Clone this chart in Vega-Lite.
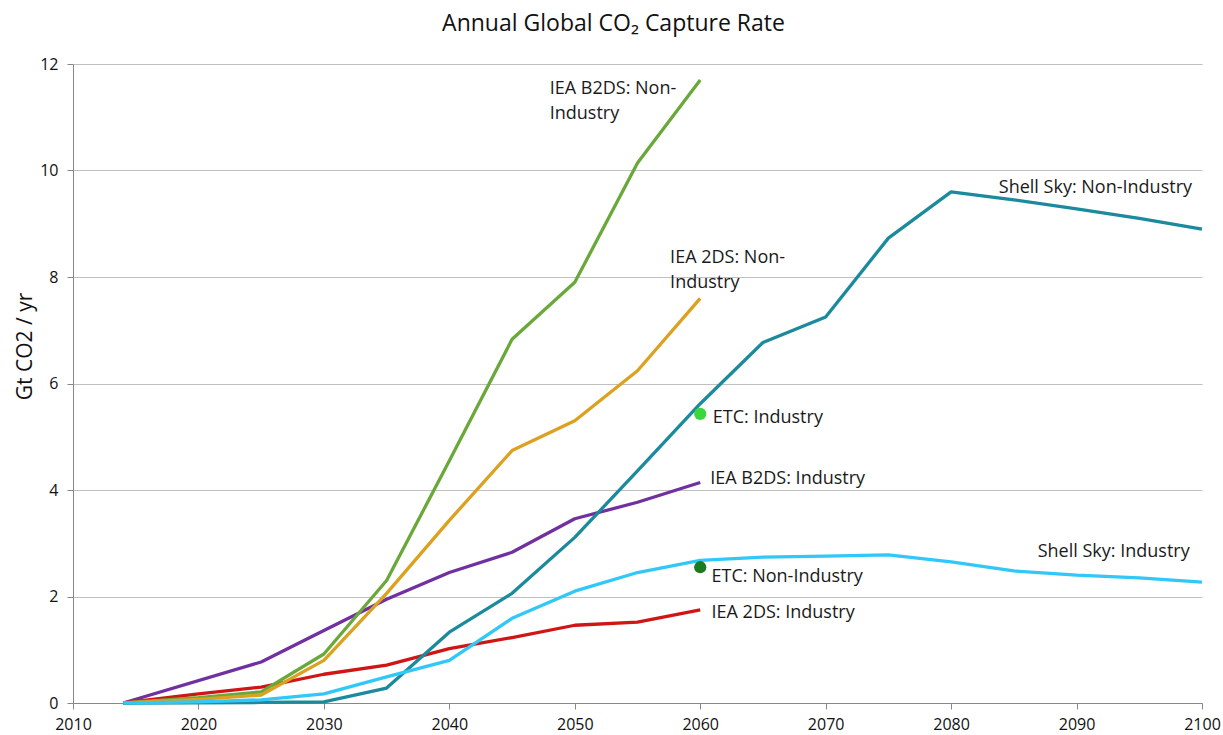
{
  "$schema": "https://vega.github.io/schema/vega-lite/v6.json",
  "autosize": {"type": "none"},
  "width": 1129,
  "height": 639,
  "padding": {"left": 73, "top": 64, "right": 21, "bottom": 32},
  "background": "white",
  "config": {
    "view": {"stroke": null},
    "font": "Open Sans",
    "axis": {"labelFont": "Open Sans", "titleFont": "Open Sans"}
  },
  "title": {
    "text": "Annual Global CO₂ Capture Rate",
    "fontSize": 23,
    "fontWeight": "normal",
    "color": "#111",
    "font": "Open Sans",
    "offset": 20,
    "dx": -24
  },
  "datasets": {
    "lines": [
      {"series": "IEA B2DS: Industry", "year": 2014, "value": 0},
      {"series": "IEA B2DS: Industry", "year": 2025, "value": 0.77},
      {"series": "IEA B2DS: Industry", "year": 2030, "value": 1.36},
      {"series": "IEA B2DS: Industry", "year": 2035, "value": 1.95},
      {"series": "IEA B2DS: Industry", "year": 2040, "value": 2.45},
      {"series": "IEA B2DS: Industry", "year": 2045, "value": 2.83},
      {"series": "IEA B2DS: Industry", "year": 2050, "value": 3.46},
      {"series": "IEA B2DS: Industry", "year": 2055, "value": 3.77},
      {"series": "IEA B2DS: Industry", "year": 2060, "value": 4.14},
      {"series": "IEA 2DS: Industry", "year": 2014, "value": 0},
      {"series": "IEA 2DS: Industry", "year": 2020, "value": 0.17},
      {"series": "IEA 2DS: Industry", "year": 2025, "value": 0.3},
      {"series": "IEA 2DS: Industry", "year": 2030, "value": 0.54},
      {"series": "IEA 2DS: Industry", "year": 2035, "value": 0.71},
      {"series": "IEA 2DS: Industry", "year": 2040, "value": 1.02},
      {"series": "IEA 2DS: Industry", "year": 2045, "value": 1.23},
      {"series": "IEA 2DS: Industry", "year": 2050, "value": 1.46},
      {"series": "IEA 2DS: Industry", "year": 2055, "value": 1.52},
      {"series": "IEA 2DS: Industry", "year": 2060, "value": 1.75},
      {"series": "IEA B2DS: Non-Industry", "year": 2014, "value": 0},
      {"series": "IEA B2DS: Non-Industry", "year": 2020, "value": 0.1},
      {"series": "IEA B2DS: Non-Industry", "year": 2025, "value": 0.21},
      {"series": "IEA B2DS: Non-Industry", "year": 2030, "value": 0.92},
      {"series": "IEA B2DS: Non-Industry", "year": 2035, "value": 2.3},
      {"series": "IEA B2DS: Non-Industry", "year": 2040, "value": 4.55},
      {"series": "IEA B2DS: Non-Industry", "year": 2045, "value": 6.83},
      {"series": "IEA B2DS: Non-Industry", "year": 2050, "value": 7.9},
      {"series": "IEA B2DS: Non-Industry", "year": 2055, "value": 10.14},
      {"series": "IEA B2DS: Non-Industry", "year": 2060, "value": 11.7},
      {"series": "IEA 2DS: Non-Industry", "year": 2014, "value": 0},
      {"series": "IEA 2DS: Non-Industry", "year": 2020, "value": 0.07},
      {"series": "IEA 2DS: Non-Industry", "year": 2025, "value": 0.15},
      {"series": "IEA 2DS: Non-Industry", "year": 2030, "value": 0.8},
      {"series": "IEA 2DS: Non-Industry", "year": 2035, "value": 2.06},
      {"series": "IEA 2DS: Non-Industry", "year": 2040, "value": 3.43},
      {"series": "IEA 2DS: Non-Industry", "year": 2045, "value": 4.74},
      {"series": "IEA 2DS: Non-Industry", "year": 2050, "value": 5.3},
      {"series": "IEA 2DS: Non-Industry", "year": 2055, "value": 6.24},
      {"series": "IEA 2DS: Non-Industry", "year": 2060, "value": 7.6},
      {"series": "Shell Sky: Non-Industry", "year": 2014, "value": 0},
      {"series": "Shell Sky: Non-Industry", "year": 2025, "value": 0.01},
      {"series": "Shell Sky: Non-Industry", "year": 2030, "value": 0.02},
      {"series": "Shell Sky: Non-Industry", "year": 2035, "value": 0.28},
      {"series": "Shell Sky: Non-Industry", "year": 2040, "value": 1.33},
      {"series": "Shell Sky: Non-Industry", "year": 2045, "value": 2.06},
      {"series": "Shell Sky: Non-Industry", "year": 2050, "value": 3.11},
      {"series": "Shell Sky: Non-Industry", "year": 2055, "value": 4.36},
      {"series": "Shell Sky: Non-Industry", "year": 2060, "value": 5.62},
      {"series": "Shell Sky: Non-Industry", "year": 2065, "value": 6.77},
      {"series": "Shell Sky: Non-Industry", "year": 2070, "value": 7.25},
      {"series": "Shell Sky: Non-Industry", "year": 2075, "value": 8.73},
      {"series": "Shell Sky: Non-Industry", "year": 2080, "value": 9.6},
      {"series": "Shell Sky: Non-Industry", "year": 2085, "value": 9.45},
      {"series": "Shell Sky: Non-Industry", "year": 2090, "value": 9.28},
      {"series": "Shell Sky: Non-Industry", "year": 2095, "value": 9.1},
      {"series": "Shell Sky: Non-Industry", "year": 2100, "value": 8.9},
      {"series": "Shell Sky: Industry", "year": 2014, "value": 0},
      {"series": "Shell Sky: Industry", "year": 2020, "value": 0.02},
      {"series": "Shell Sky: Industry", "year": 2025, "value": 0.06},
      {"series": "Shell Sky: Industry", "year": 2030, "value": 0.17},
      {"series": "Shell Sky: Industry", "year": 2035, "value": 0.49},
      {"series": "Shell Sky: Industry", "year": 2040, "value": 0.8},
      {"series": "Shell Sky: Industry", "year": 2045, "value": 1.59},
      {"series": "Shell Sky: Industry", "year": 2050, "value": 2.1},
      {"series": "Shell Sky: Industry", "year": 2055, "value": 2.45},
      {"series": "Shell Sky: Industry", "year": 2060, "value": 2.68},
      {"series": "Shell Sky: Industry", "year": 2065, "value": 2.74},
      {"series": "Shell Sky: Industry", "year": 2070, "value": 2.76},
      {"series": "Shell Sky: Industry", "year": 2075, "value": 2.78},
      {"series": "Shell Sky: Industry", "year": 2080, "value": 2.65},
      {"series": "Shell Sky: Industry", "year": 2085, "value": 2.48},
      {"series": "Shell Sky: Industry", "year": 2090, "value": 2.4},
      {"series": "Shell Sky: Industry", "year": 2095, "value": 2.35},
      {"series": "Shell Sky: Industry", "year": 2100, "value": 2.27}
    ],
    "points": [
      {"series": "ETC: Industry", "year": 2060, "value": 5.43},
      {"series": "ETC: Non-Industry", "year": 2060, "value": 2.55}
    ],
    "labels": [
      {"label": "IEA B2DS: Non-\nIndustry", "year": 2048.0, "value": 11.53},
      {"label": "IEA 2DS: Non-\nIndustry", "year": 2057.6, "value": 8.35},
      {"label": "Shell Sky: Non-Industry", "year": 2083.8, "value": 9.68},
      {"label": "ETC: Industry", "year": 2061.0, "value": 5.36},
      {"label": "IEA B2DS: Industry", "year": 2060.8, "value": 4.21},
      {"label": "ETC: Non-Industry", "year": 2060.9, "value": 2.36},
      {"label": "IEA 2DS: Industry", "year": 2060.9, "value": 1.69},
      {"label": "Shell Sky: Industry", "year": 2086.9, "value": 2.83}
    ]
  },
  "encoding": {
    "x": {
      "field": "year",
      "type": "quantitative",
      "scale": {"domain": [2010, 2100], "nice": false, "zero": false},
      "axis": {
        "title": null,
        "values": [2010, 2020, 2030, 2040, 2050, 2060, 2070, 2080, 2090, 2100],
        "format": "d",
        "grid": false,
        "domainColor": "#888888",
        "tickColor": "#888888",
        "tickSize": 6,
        "labelFontSize": 16,
        "labelColor": "#111",
        "labelPadding": 7,
        "labelFlush": false
      }
    },
    "y": {
      "field": "value",
      "type": "quantitative",
      "scale": {"domain": [0, 12], "nice": false},
      "axis": {
        "title": "Gt CO2 / yr",
        "titleFontSize": 21,
        "titleFontWeight": "normal",
        "titleColor": "#111",
        "titleX": -48,
        "titleY": 282,
        "titleAngle": 270,
        "titleAlign": "center",
        "titleBaseline": "middle",
        "values": [0, 2, 4, 6, 8, 10, 12],
        "grid": true,
        "gridColor": "#c0c0c0",
        "gridWidth": 1,
        "domainColor": "#888888",
        "tickColor": "#888888",
        "tickSize": 6,
        "labelFontSize": 16,
        "labelColor": "#111",
        "labelPadding": 9
      }
    }
  },
  "layer": [
    {
      "data": {"name": "lines"},
      "mark": {"type": "line", "strokeWidth": 3.3, "strokeJoin": "round"},
      "encoding": {
        "color": {
          "field": "series",
          "type": "nominal",
          "legend": null,
          "scale": {
            "domain": ["IEA B2DS: Industry", "IEA 2DS: Industry", "IEA B2DS: Non-Industry", "IEA 2DS: Non-Industry", "Shell Sky: Non-Industry", "Shell Sky: Industry", "ETC: Industry", "ETC: Non-Industry"],
            "range": ["#7030a0", "#d01515", "#6aa83a", "#dca11e", "#1a8a9c", "#30c8f8", "#3ad83a", "#1e7a1e"]
          }
        }
      }
    },
    {
      "data": {"name": "points"},
      "mark": {"type": "point", "filled": true, "size": 150, "opacity": 1},
      "encoding": {
        "color": {"field": "series", "type": "nominal", "legend": null}
      }
    },
    {
      "data": {"name": "labels"},
      "mark": {"type": "text", "align": "left", "baseline": "middle", "fontSize": 18, "lineBreak": "\n", "lineHeight": 25, "color": "#1a1a1a", "font": "Open Sans"},
      "encoding": {
        "text": {"field": "label"}
      }
    }
  ]
}
